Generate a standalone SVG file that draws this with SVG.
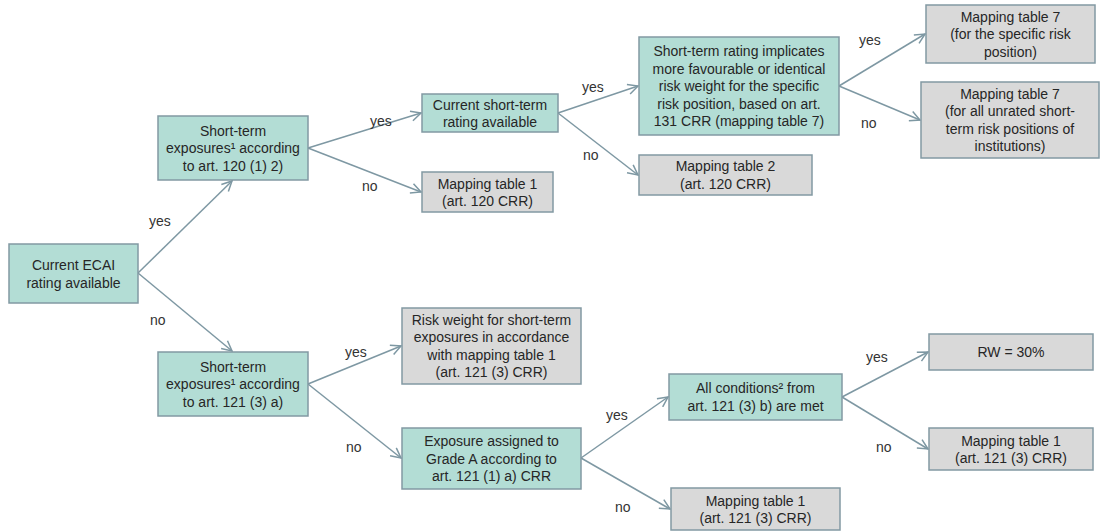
<svg xmlns="http://www.w3.org/2000/svg" width="1105" height="531" viewBox="0 0 1105 531">
<style>
.t{fill:#b3ddd5;stroke:#8299a3;stroke-width:1.5}
.g{fill:#d9d9d9;stroke:#8299a3;stroke-width:1.5}
text{font-family:"Liberation Sans",Arial,sans-serif;font-size:14px;fill:#262626;text-anchor:middle}
.lbl{text-anchor:start;fill:#333}
.c{stroke:#7e98a3;stroke-width:1.5;fill:none;marker-end:url(#a)}
</style>
<defs>
<marker id="a" viewBox="0 0 12 12" refX="11" refY="6" markerWidth="12" markerHeight="12" markerUnits="userSpaceOnUse" orient="auto">
<path d="M1,1 L11,6 L1,11" fill="none" stroke="#7e98a3" stroke-width="1.5"/>
</marker>
</defs>
<rect width="1105" height="531" fill="#fff"/>
<g id="connectors">
<line class="c" x1="138" y1="273" x2="232" y2="181"/>
<line class="c" x1="138" y1="273" x2="232" y2="351"/>
<line class="c" x1="308" y1="148" x2="421" y2="113"/>
<line class="c" x1="308" y1="148" x2="421" y2="192"/>
<line class="c" x1="558" y1="113" x2="638" y2="86"/>
<line class="c" x1="558" y1="113" x2="638" y2="175"/>
<line class="c" x1="839" y1="86" x2="925" y2="34"/>
<line class="c" x1="839" y1="86" x2="920" y2="120"/>
<line class="c" x1="308" y1="384" x2="401" y2="346"/>
<line class="c" x1="308" y1="384" x2="401" y2="458"/>
<line class="c" x1="581" y1="458" x2="668" y2="397"/>
<line class="c" x1="581" y1="458" x2="670" y2="509"/>
<line class="c" x1="842" y1="397" x2="928" y2="352"/>
<line class="c" x1="842" y1="397" x2="928" y2="449"/>
<text class="lbl" x="149" y="226">yes</text>
<text class="lbl" x="150" y="325">no</text>
<text class="lbl" x="370" y="126">yes</text>
<text class="lbl" x="362" y="191">no</text>
<text class="lbl" x="582" y="92">yes</text>
<text class="lbl" x="583" y="160">no</text>
<text class="lbl" x="859" y="45">yes</text>
<text class="lbl" x="861" y="128">no</text>
<text class="lbl" x="345" y="357">yes</text>
<text class="lbl" x="346" y="452">no</text>
<text class="lbl" x="606" y="420">yes</text>
<text class="lbl" x="615" y="512">no</text>
<text class="lbl" x="866" y="362">yes</text>
<text class="lbl" x="876" y="452">no</text>
</g>
<g id="n-ecai"><rect class="t" x="9" y="244" width="129" height="59"/>
<text x="73.5" y="270">Current ECAI</text><text x="73.5" y="288">rating available</text></g>
<g id="n-st120"><rect class="t" x="158" y="116" width="150" height="64"/>
<text x="233" y="135.5">Short-term</text><text x="233" y="153">exposures¹ according</text><text x="233" y="170.5">to  art. 120 (1) 2)</text></g>
<g id="n-curst"><rect class="t" x="422" y="94" width="136" height="38"/>
<text x="490" y="109.5">Current short-term</text><text x="490" y="127">rating available</text></g>
<g id="n-mt1-120"><rect class="g" x="422" y="172" width="131" height="40"/>
<text x="487.5" y="188.5">Mapping table 1</text><text x="487.5" y="206">(art. 120 CRR)</text></g>
<g id="n-strating"><rect class="t" x="639" y="37" width="200" height="98"/>
<text x="739" y="56">Short-term rating implicates</text><text x="739" y="73.5">more favourable or identical</text><text x="739" y="91">risk weight for the specific</text><text x="739" y="108.5">risk position, based on art.</text><text x="739" y="126">131 CRR (mapping table 7)</text></g>
<g id="n-mt2"><rect class="g" x="639" y="155" width="173" height="40"/>
<text x="725.5" y="171">Mapping table 2</text><text x="725.5" y="188.5">(art. 120 CRR)</text></g>
<g id="n-mt7a"><rect class="g" x="926" y="5" width="169" height="58"/>
<text x="1010.5" y="21.5">Mapping table 7</text><text x="1010.5" y="39">(for the specific risk</text><text x="1010.5" y="56.5">position)</text></g>
<g id="n-mt7b"><rect class="g" x="921" y="82" width="178" height="76"/>
<text x="1010" y="98.8">Mapping table 7</text><text x="1010" y="116.3">(for all unrated short-</text><text x="1010" y="133.8">term risk positions of</text><text x="1010" y="151.3">institutions)</text></g>
<g id="n-st121"><rect class="t" x="158" y="352" width="150" height="64"/>
<text x="233" y="371.5">Short-term</text><text x="233" y="389">exposures¹ according</text><text x="233" y="406.5">to  art. 121 (3) a)</text></g>
<g id="n-rw121"><rect class="g" x="402" y="308" width="179" height="76"/>
<text x="491.5" y="324.8">Risk weight for short-term</text><text x="491.5" y="342.3">exposures in accordance</text><text x="491.5" y="359.8">with mapping table 1</text><text x="491.5" y="377.3">(art. 121 (3) CRR)</text></g>
<g id="n-gradea"><rect class="t" x="402" y="428" width="179" height="61"/>
<text x="491.5" y="446">Exposure assigned to</text><text x="491.5" y="463.5">Grade A according to</text><text x="491.5" y="481">art. 121 (1) a) CRR</text></g>
<g id="n-allcond"><rect class="t" x="669" y="374" width="173" height="46"/>
<text x="755.5" y="393">All conditions² from</text><text x="755.5" y="410.5">art. 121 (3) b) are met</text></g>
<g id="n-mt1-bottom"><rect class="g" x="671" y="488" width="169" height="42"/>
<text x="755.5" y="505.5">Mapping table 1</text><text x="755.5" y="523">(art. 121 (3) CRR)</text></g>
<g id="n-rw30"><rect class="g" x="929" y="334" width="164" height="36"/>
<text x="1011" y="357">RW = 30%</text></g>
<g id="n-mt1-right"><rect class="g" x="929" y="428" width="164" height="42"/>
<text x="1011" y="445.5">Mapping table 1</text><text x="1011" y="463">(art. 121 (3) CRR)</text></g>
</svg>
